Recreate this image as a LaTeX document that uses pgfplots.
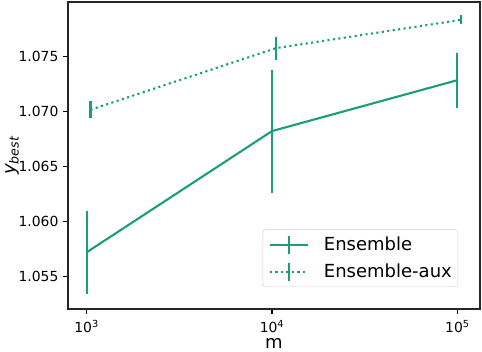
\documentclass[border=0pt]{standalone}
\usepackage{fontspec}
\setmainfont{DejaVu Sans}
\usepackage{pgfplots}
\pgfplotsset{compat=1.18}
\definecolor{grn}{HTML}{1B9E77}
\begin{document}
\begin{tikzpicture}
\begin{axis}[
  name=ax,
  scale only axis,
  width=412pt, height=307pt,
  xmode=log,
  xmin=794.3, xmax=132434,
  ymin=1.05206, ymax=1.07998,
  xtick={1000,10000,100000},
  xticklabels={10\textsuperscript{3},10\textsuperscript{4},10\textsuperscript{5}},
  xminorticks=false,
  ytick={1.055,1.060,1.065,1.070,1.075},
  yticklabels={1.055,1.060,1.065,1.070,1.075},
  tick align=outside,
  tick pos=left,
  major tick length=4.9pt,
  every tick/.style={line width=1.1pt, black},
  axis line style={line width=1.1pt, black!85},
  tick label style={font=\fontsize{13.9}{16}\selectfont},
  yticklabel style={inner sep=0pt, xshift=-4.5pt},
  xticklabel style={inner sep=0pt, anchor=base, yshift=-19pt},
  label style={font=\fontsize{18}{21}\selectfont},
  xlabel={m},
  ylabel={\textit{y}\textsubscript{\textit{best}}},
  xlabel style={at={(axis description cs:0.5,0)}, anchor=base, yshift=-40pt, inner sep=0pt},
  ylabel style={at={(axis description cs:0,0.5)}, anchor=south, yshift=49pt, inner sep=0pt},
  legend style={
    at={(0.9466,0.0717)}, anchor=south east,
    draw=black!20, rounded corners=3pt, fill=white, fill opacity=0.8, text opacity=1,
    font=\fontsize{18}{21}\selectfont,
    inner xsep=6pt, inner ysep=5pt, row sep=7pt, column sep=15pt,
    nodes={inner sep=0pt},
  },
  legend cell align=left,
  legend image code/.code={
    \draw[#1] (0pt,0pt) -- (38pt,0pt);
    \draw[#1, solid] (19pt,-9pt) -- (19pt,9pt);
  },
]
\addplot[grn, line width=2.1pt, mark=none,
  error bars/.cd, y dir=both, y explicit,
  error bar style={line width=2.1pt, solid, grn}, error mark=none]
  coordinates {
    (1000,1.05721) +- (0,0.0038)
    (10000,1.06824) +- (0,0.0056)
    (100000,1.07287) +- (0,0.0025)
  };
\addlegendentry{Ensemble}
\addplot[grn, line width=2.1pt, dash pattern=on 2.1pt off 3.4pt, mark=none,
  error bars/.cd, y dir=both, y explicit,
  error bar style={line width=2.1pt, solid, grn}, error mark=none]
  coordinates {
    (1050,1.07018) +- (0,0.00078)
    (10500,1.07578) +- (0,0.00105)
    (105000,1.07836) +- (0,0.0004)
  };
\addlegendentry{Ensemble-aux}
\end{axis}
\pgfresetboundingbox
\path ([xshift=-68pt,yshift=-43pt]ax.south west) rectangle ([xshift=2pt,yshift=2pt]ax.north east);
\end{tikzpicture}
\end{document}
